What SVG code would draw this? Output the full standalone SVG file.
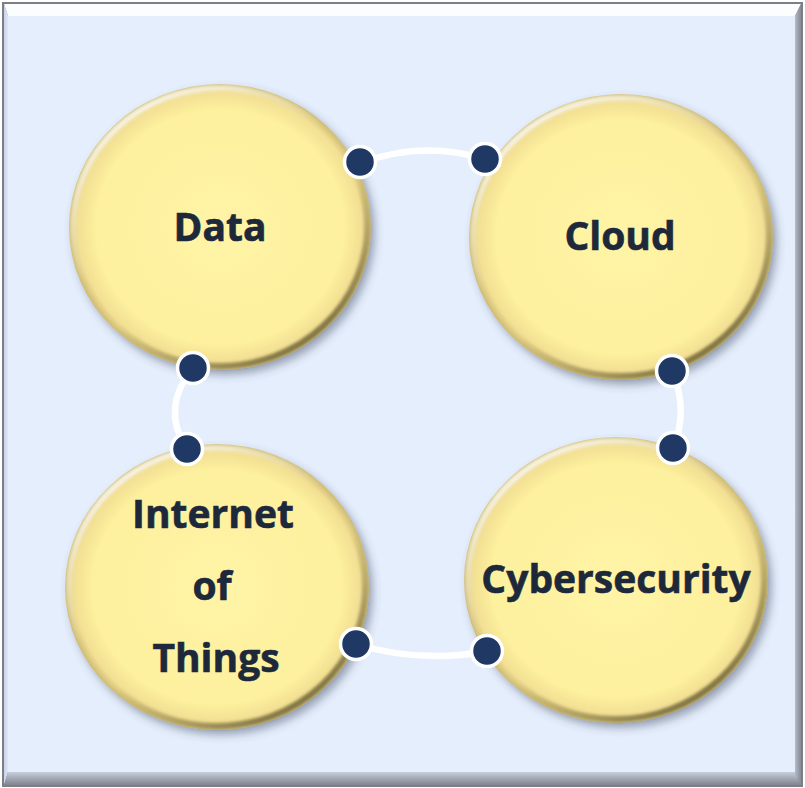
<svg xmlns="http://www.w3.org/2000/svg" width="805" height="788" viewBox="0 0 805 788">
  <style>
    .lbl { font-family: "Open Sans", "Noto Sans", "Liberation Sans", sans-serif; font-weight: 700; font-size: 39px; fill: #1d283a; stroke: #1d283a; stroke-width: 0.6; text-anchor: middle; }
    .conn { fill: none; stroke: #ffffff; stroke-width: 6.5; stroke-linecap: round; }
    .dot { fill: #1f3864; stroke: #ffffff; stroke-width: 3.5; }
    .ball { fill: url(#fillG); filter: url(#shadow); }
    .rim { fill: none; stroke: url(#rimG); stroke-width: 6; filter: url(#soft); }
  </style>
  <defs>
    <radialGradient id="fillG" cx="50%" cy="50%" r="50%">
      <stop offset="0" stop-color="#fff4a6"/>
      <stop offset="0.82" stop-color="#fdf09e"/>
      <stop offset="0.94" stop-color="#f2df93"/>
      <stop offset="1" stop-color="#cdbb74"/>
    </radialGradient>
    <linearGradient id="rimG" x1="0.15" y1="0" x2="0.85" y2="1">
      <stop offset="0" stop-color="#ffffff" stop-opacity="0.95"/>
      <stop offset="0.42" stop-color="#ffffff" stop-opacity="0"/>
      <stop offset="0.58" stop-color="#6b5f30" stop-opacity="0"/>
      <stop offset="1" stop-color="#4f4524" stop-opacity="0.85"/>
    </linearGradient>
    <linearGradient id="rightG" x1="0" y1="0" x2="1" y2="0">
      <stop offset="0" stop-color="#b4bcc8"/>
      <stop offset="1" stop-color="#858a94"/>
    </linearGradient>
    <linearGradient id="bottomG" x1="0" y1="0" x2="0" y2="1">
      <stop offset="0" stop-color="#c6cedb"/>
      <stop offset="1" stop-color="#80858f"/>
    </linearGradient>
    <linearGradient id="leftG" x1="0" y1="0" x2="1" y2="0">
      <stop offset="0" stop-color="#c8d2e4"/>
      <stop offset="1" stop-color="#e0e8f8"/>
    </linearGradient>
    <filter id="shadow" x="-20%" y="-20%" width="150%" height="150%">
      <feGaussianBlur in="SourceAlpha" stdDeviation="4"/>
      <feOffset dx="4" dy="5" result="b"/>
      <feFlood flood-color="#3c4862" flood-opacity="0.45"/>
      <feComposite in2="b" operator="in" result="s"/>
      <feMerge><feMergeNode in="s"/><feMergeNode in="SourceGraphic"/></feMerge>
    </filter>
    <filter id="soft" x="-10%" y="-10%" width="120%" height="120%">
      <feGaussianBlur stdDeviation="1.6"/>
    </filter>
  </defs>

  <g id="frame">
    <rect x="2" y="2" width="801" height="785" fill="#7c7f86"/>
    <polygon points="4,4 801,4 795,16 8,16" fill="#fbfdff"/>
    <polygon points="4,4 8,16 8,772 4,785" fill="url(#leftG)"/>
    <polygon points="801,4 801,785 795,772 795,16" fill="url(#rightG)"/>
    <polygon points="4,785 801,785 795,772 8,772" fill="url(#bottomG)"/>
    <rect x="8" y="16" width="787" height="756" fill="#e5eefc"/>
  </g>

  <g id="node-data">
    <ellipse class="ball" cx="220" cy="227" rx="151" ry="143"/>
    <ellipse class="rim" cx="220" cy="227" rx="147" ry="139"/>
    <text class="lbl" x="220" y="241">Data</text>
  </g>

  <g id="node-cloud">
    <ellipse class="ball" cx="621" cy="237" rx="152" ry="143"/>
    <ellipse class="rim" cx="621" cy="237" rx="148" ry="139"/>
    <text class="lbl" x="620" y="250">Cloud</text>
  </g>

  <g id="node-iot">
    <ellipse class="ball" cx="217" cy="587" rx="152" ry="143"/>
    <ellipse class="rim" cx="217" cy="587" rx="148" ry="139"/>
    <text class="lbl" x="213" y="528">Internet</text>
    <text class="lbl" x="212" y="600">of</text>
    <text class="lbl" x="216" y="672">Things</text>
  </g>

  <g id="node-cyber">
    <ellipse class="ball" cx="616" cy="580" rx="152" ry="143"/>
    <ellipse class="rim" cx="616" cy="580" rx="148" ry="139"/>
    <text class="lbl" x="616" y="593">Cybersecurity</text>
  </g>

  <g id="connectors">
    <path class="conn" d="M360,163 Q422,140 485,159"/>
    <path class="conn" d="M193,368 Q160,408 187,449"/>
    <path class="conn" d="M672,371 Q689,410 673,448"/>
    <path class="conn" d="M356,644 Q421,664 487,651"/>
    <circle class="dot" cx="360" cy="162" r="15.5"/>
    <circle class="dot" cx="485" cy="159" r="15.5"/>
    <circle class="dot" cx="193" cy="368" r="15.5"/>
    <circle class="dot" cx="187" cy="449" r="15.5"/>
    <circle class="dot" cx="672" cy="371" r="15.5"/>
    <circle class="dot" cx="673" cy="448" r="15.5"/>
    <circle class="dot" cx="356" cy="644" r="15.5"/>
    <circle class="dot" cx="487" cy="651" r="15.5"/>
  </g>
</svg>
